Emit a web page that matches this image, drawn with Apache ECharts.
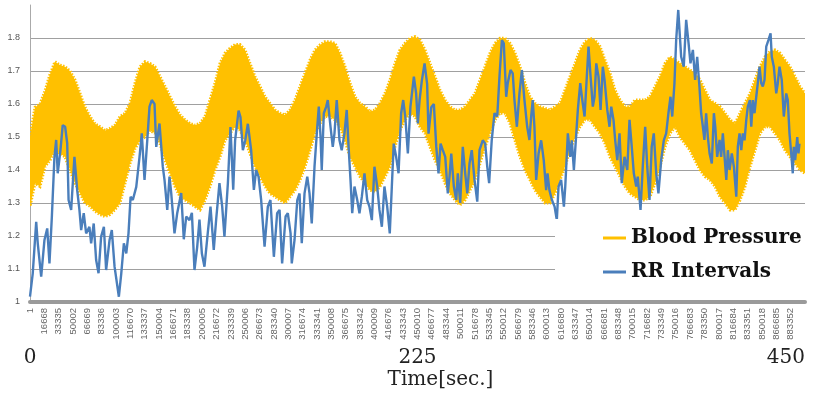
<!DOCTYPE html>
<html>
<head>
    <meta charset="utf-8">
    <title>Blood Pressure / RR Intervals</title>
    <script src="https://cdn.jsdelivr.net/npm/echarts@6.0.0/dist/echarts.min.js"></script>
</head>
<style>
    *{
        padding: 0;
        margin: 0;
    }
    #main {
        width: 827px;
        height: 396px;
        background: #fff;
    }
</style>
<body>
    <div id="main"></div>
    <script type="text/javascript">
    // sampled at 2000 Hz, 450 s -> 900000 samples, tick every 16667 samples
    var SAMPLE_RATE = 2000;
    var TICK_SAMPLES = 16667;
    var DURATION = 450;
    var secTicks = [0, 225, 450];

    // blood pressure band (upper / lower envelope), one value every 450/155 s
    var BP_STEP = 450 / 155;
    var bpUpper = [
        1.50,1.59,1.60,1.64,1.69,1.728,1.718,1.713,1.70,1.673,
        1.632,1.59,1.562,1.54,1.531,1.52,1.526,1.536,1.562,1.572,
        1.602,1.663,1.713,1.728,1.723,1.713,1.683,1.653,1.622,1.592,
        1.567,1.552,1.541,1.536,1.541,1.562,1.612,1.663,1.723,1.754,
        1.769,1.78,1.78,1.764,1.723,1.683,1.653,1.622,1.602,1.582,
        1.572,1.567,1.582,1.612,1.653,1.693,1.733,1.764,1.779,1.789,
        1.789,1.784,1.754,1.713,1.663,1.622,1.602,1.592,1.577,1.582,
        1.602,1.632,1.673,1.723,1.764,1.784,1.799,1.804,1.794,1.764,
        1.723,1.683,1.642,1.612,1.592,1.582,1.582,1.592,1.612,1.632,
        1.673,1.713,1.754,1.784,1.799,1.799,1.784,1.754,1.713,1.663,
        1.622,1.602,1.592,1.587,1.582,1.592,1.602,1.642,1.683,1.723,
        1.764,1.789,1.799,1.794,1.774,1.733,1.693,1.642,1.612,1.592,
        1.592,1.612,1.612,1.612,1.622,1.653,1.683,1.723,1.743,1.733,
        1.723,1.713,1.703,1.693,1.673,1.642,1.612,1.602,1.592,1.572,
        1.552,1.541,1.572,1.602,1.632,1.673,1.713,1.743,1.759,1.764,
        1.754,1.733,1.713,1.683,1.653,1.632
    ];
    var bpLower = [
        1.29,1.36,1.35,1.41,1.43,1.46,1.45,1.44,1.40,1.36,
        1.33,1.30,1.29,1.275,1.265,1.259,1.265,1.28,1.30,1.36,
        1.42,1.465,1.49,1.50,1.52,1.511,1.48,1.43,1.39,1.35,
        1.319,1.309,1.30,1.289,1.279,1.309,1.35,1.40,1.44,1.49,
        1.511,1.531,1.52,1.49,1.45,1.41,1.38,1.35,1.329,1.319,
        1.309,1.30,1.319,1.339,1.37,1.41,1.46,1.511,1.541,1.562,
        1.562,1.552,1.531,1.49,1.44,1.41,1.38,1.36,1.339,1.334,
        1.35,1.38,1.41,1.471,1.521,1.552,1.572,1.562,1.531,1.511,
        1.47,1.43,1.40,1.36,1.329,1.309,1.294,1.309,1.339,1.37,
        1.42,1.47,1.511,1.552,1.572,1.572,1.541,1.49,1.44,1.40,
        1.37,1.339,1.319,1.30,1.30,1.329,1.37,1.41,1.46,1.50,
        1.531,1.552,1.552,1.531,1.511,1.48,1.44,1.41,1.38,1.35,
        1.329,1.319,1.309,1.309,1.319,1.36,1.41,1.47,1.511,1.531,
        1.50,1.48,1.46,1.43,1.40,1.38,1.37,1.35,1.319,1.30,
        1.279,1.279,1.309,1.35,1.41,1.46,1.511,1.531,1.531,1.511,
        1.49,1.46,1.44,1.42,1.40,1.39
    ];

    // RR intervals: time [s] and value
    var rrTime = [
        0,1.6,3.6,4.5,6.5,8.4,10.0,11.3,12.7,14.2,
        15.2,16.1,17.7,19.0,20.4,21.6,22.4,23.9,25.8,27.4,
        28.7,29.7,31.2,32.6,34.5,35.5,37.0,38.4,39.8,41.3,
        42.9,44.2,46.2,47.5,49.1,51.6,53.0,54.5,55.9,57.2,
        58.4,59.7,61.7,63.6,64.9,66.5,68.1,69.4,70.7,72.3,
        73.3,75.2,77.1,78.1,79.7,81.0,82.0,83.9,85.5,87.8,
        89.3,90.7,92.6,94.0,95.5,97.1,98.4,99.8,101.3,103.2,
        104.8,106.7,108.1,110.0,111.6,112.9,114.9,116.4,118.0,119.1,
        121.1,122.2,123.6,125.0,126.5,127.5,128.4,130.0,131.3,132.7,
        134.2,136.2,138.1,139.6,141.6,143.5,144.9,146.4,148.4,149.7,
        151.3,152.0,153.6,155.2,156.5,157.8,159.4,161.0,162.3,163.6,
        165.2,166.8,167.7,168.7,169.4,170.6,172.0,172.9,174.5,175.8,
        176.8,178.1,179.7,181.0,182.6,183.9,185.1,186.1,187.1,188.4,
        190.0,191.3,192.7,194.2,195.8,197.1,198.5,200.0,201.6,202.9,
        204.3,205.8,207.4,208.9,210.1,211.2,212.6,214.0,215.5,216.7,
        217.9,219.4,220.9,222.9,224.2,225.2,226.2,227.5,229.1,230.6,
        231.4,233.0,234.5,235.9,237.2,238.4,239.7,241.1,242.6,243.6,
        244.6,246.1,247.5,248.4,249.8,251.3,252.7,253.9,255.2,256.5,
        258.1,259.7,261.0,262.9,264.3,265.5,266.6,268.1,269.7,271.3,
        272.6,274.0,275.1,276.5,277.4,279.0,280.3,281.3,282.7,284.2,
        285.6,287.1,288.7,290.0,291.0,291.9,292.9,293.9,295.3,296.8,
        298.3,299.7,300.5,301.6,303.0,304.6,305.9,306.9,308.4,310.0,
        310.8,312.3,313.7,314.6,315.8,317.2,318.1,319.5,320.7,322.0,
        323.1,324.3,325.5,326.8,327.8,328.8,330.1,331.3,332.6,333.6,
        335.2,336.5,337.5,338.8,339.8,341.0,342.3,343.6,345.2,346.8,
        348.1,349.4,350.6,352.0,352.9,354.5,355.8,357.2,358.4,359.7,
        361.0,362.2,363.6,364.9,366.5,368.0,369.4,370.7,371.9,372.9,
        374.2,375.2,376.4,378.1,379.6,381.0,382.4,383.5,384.9,386.2,
        387.4,388.7,389.7,390.7,391.6,392.6,393.6,394.6,395.9,397.1,
        397.9,399.0,400.4,401.3,402.3,403.3,404.3,405.2,406.2,407.5,
        408.7,410.1,411.0,412.0,413.0,413.9,414.9,415.9,416.8,418.0,
        418.8,419.7,420.7,421.7,422.6,423.6,424.6,425.5,426.5,427.5,
        428.8,430.0,430.7,431.9,433.3,434.2,435.2,436.5,437.7,439.1,
        440.0,441.0,442.0,442.9,443.5,444.3,445.5,446.2,446.8
    ];
    var rrValue = [
        1.016,1.087,1.243,1.178,1.077,1.188,1.223,1.117,1.259,1.440,
        1.491,1.390,1.461,1.536,1.531,1.481,1.309,1.279,1.440,1.339,
        1.279,1.218,1.269,1.208,1.228,1.178,1.238,1.127,1.087,1.198,
        1.228,1.097,1.188,1.218,1.107,1.016,1.087,1.178,1.147,1.208,
        1.319,1.309,1.349,1.440,1.511,1.370,1.491,1.592,1.612,1.600,
        1.47,1.541,1.41,1.37,1.279,1.38,1.33,1.208,1.27,1.33,
        1.19,1.259,1.248,1.27,1.097,1.168,1.25,1.147,1.107,1.208,
        1.289,1.158,1.25,1.36,1.289,1.198,1.36,1.53,1.34,1.49,
        1.58,1.56,1.46,1.49,1.54,1.54,1.46,1.34,1.40,1.38,
        1.31,1.168,1.289,1.309,1.137,1.269,1.279,1.117,1.259,1.269,
        1.208,1.117,1.188,1.309,1.329,1.178,1.329,1.38,1.329,1.238,
        1.41,1.531,1.592,1.50,1.40,1.572,1.592,1.612,1.531,1.47,
        1.511,1.612,1.49,1.46,1.511,1.582,1.46,1.37,1.269,1.35,
        1.309,1.269,1.32,1.39,1.309,1.289,1.248,1.41,1.35,1.279,
        1.228,1.35,1.289,1.208,1.35,1.48,1.44,1.39,1.572,1.612,
        1.562,1.45,1.592,1.683,1.632,1.541,1.612,1.67,1.723,1.66,
        1.51,1.59,1.60,1.47,1.39,1.48,1.46,1.44,1.329,1.38,
        1.45,1.35,1.309,1.39,1.30,1.47,1.39,1.329,1.42,1.46,
        1.37,1.304,1.46,1.49,1.48,1.41,1.36,1.49,1.572,1.562,
        1.683,1.794,1.784,1.622,1.663,1.703,1.693,1.612,1.531,1.632,
        1.703,1.612,1.531,1.491,1.562,1.612,1.531,1.37,1.45,1.49,
        1.43,1.339,1.39,1.339,1.31,1.289,1.248,1.35,1.37,1.289,
        1.35,1.511,1.44,1.49,1.40,1.511,1.582,1.663,1.612,1.562,
        1.663,1.774,1.683,1.592,1.622,1.723,1.683,1.582,1.713,1.673,
        1.582,1.531,1.592,1.552,1.49,1.43,1.511,1.36,1.44,1.40,
        1.552,1.471,1.39,1.35,1.38,1.279,1.41,1.531,1.41,1.309,
        1.471,1.511,1.39,1.329,1.43,1.49,1.511,1.572,1.622,1.562,
        1.663,1.794,1.885,1.743,1.713,1.855,1.784,1.723,1.764,1.673,
        1.743,1.653,1.572,1.531,1.491,1.572,1.50,1.45,1.42,1.572,
        1.531,1.44,1.491,1.44,1.511,1.44,1.37,1.46,1.40,1.45,
        1.41,1.319,1.471,1.511,1.46,1.511,1.49,1.552,1.592,1.612,
        1.531,1.612,1.572,1.622,1.663,1.713,1.663,1.653,1.673,1.774,
        1.794,1.814,1.743,1.713,1.632,1.663,1.713,1.673,1.562,1.632,
        1.612,1.511,1.45,1.39,1.47,1.43,1.50,1.45,1.48
    ];

    // [time, lower, upper] rows for the band
    var bpData = bpUpper.map(function (v, i) { return [i * BP_STEP, bpLower[i], v]; });
    var rrData = rrTime.map(function (t, i) { return [t, rrValue[i]]; });

    // draws the whole band as one polygon (upper edge forward, lower edge back)
    function renderBand(params, api) {
        if (params.dataIndex !== 0) {
            return null;
        }
        var pts = [];
        var i;
        for (i = 0; i < bpData.length; i++) {
            pts.push(api.coord([bpData[i][0], bpData[i][2]]));
        }
        for (i = bpData.length - 1; i >= 0; i--) {
            pts.push(api.coord([bpData[i][0], bpData[i][1]]));
        }
        return {
            type: 'polygon',
            shape: { points: pts },
            // short dashes on a wide stroke give the rough edge of the dense signal
            style: { fill: '#FFC000', stroke: '#FFC000', lineWidth: 3, lineDash: [1.5, 1.5] }
        };
    }

    var myChart = echarts.init(document.getElementById('main'));
    var option = {
        animation: false,
        backgroundColor: '#fff',
        grid: {
            left: 30,
            right: 22,
            top: 5,
            bottom: 94,
            outerBoundsMode: 'none'
        },
        legend: {
            data: ['Blood Pressure', 'RR Intervals'],
            orient: 'vertical',
            left: 555,
            top: 219,
            padding: [9, 10, 10, 48],
            itemGap: 14,
            itemWidth: 23,
            itemHeight: 3,
            icon: 'rect',
            backgroundColor: '#fff',
            textStyle: {
                fontFamily: 'DejaVu Serif',
                fontWeight: 'bold',
                fontSize: 20,
                color: '#111'
            }
        },
        xAxis: [{
            type: 'value',
            min: 0,
            max: DURATION,
            interval: TICK_SAMPLES / SAMPLE_RATE,
            axisLine: { show: true, lineStyle: { color: '#9a9a9a', width: 4 } },
            axisTick: { show: false },
            splitLine: { show: false },
            axisLabel: {
                rotate: 90,
                margin: 6,
                fontSize: 9.5,
                fontFamily: 'Liberation Sans',
                color: '#666',
                showMaxLabel: false,
                formatter: function (v) {
                    return String(Math.round(v * SAMPLE_RATE) + 1);
                }
            }
        }, {
            type: 'value',
            position: 'bottom',
            offset: 40,
            min: secTicks[0],
            max: secTicks[2],
            interval: secTicks[1] - secTicks[0],
            axisLine: { show: false },
            axisTick: { show: false },
            splitLine: { show: false },
            axisLabel: {
                margin: 6,
                fontSize: 20,
                fontFamily: 'DejaVu Serif',
                color: '#222',
                alignMaxLabel: 'right'
            },
            name: 'Time[sec.]',
            nameLocation: 'middle',
            nameGap: 28,
            nameMoveOverlap: false,
            nameTextStyle: {
                fontSize: 20,
                fontFamily: 'DejaVu Serif',
                color: '#222',
                padding: [0, 0, 0, 46]
            }
        }],
        yAxis: {
            type: 'value',
            min: 1,
            max: 1.9,
            interval: 0.1,
            axisLine: { show: true, lineStyle: { color: '#aaa', width: 1 } },
            axisTick: { show: false },
            splitLine: { show: true, showMaxLine: false, lineStyle: { color: '#a0a0a0', width: 1.2 } },
            axisLabel: {
                margin: 10,
                fontSize: 9,
                fontFamily: 'Liberation Sans',
                color: '#555',
                showMaxLabel: false
            }
        },
        series: [{
            name: 'Blood Pressure',
            type: 'custom',
            data: bpData,
            encode: { x: 0, y: [1, 2] },
            renderItem: renderBand,
            itemStyle: { color: '#FFC000' },
            clip: true,
            z: 2
        }, {
            name: 'RR Intervals',
            type: 'line',
            data: rrData,
            showSymbol: false,
            z: 3,
            itemStyle: { color: '#4A7EBB' },
            lineStyle: { color: '#4A7EBB', width: 2.4 }
        }]
    };
    myChart.setOption(option);
    </script>
</body>
</html>
